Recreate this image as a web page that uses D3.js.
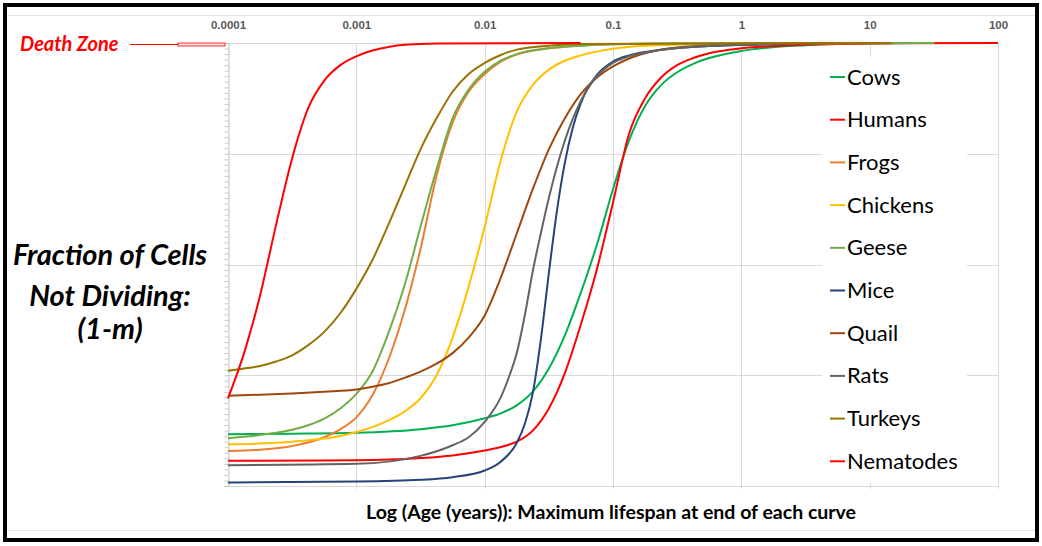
<!DOCTYPE html>
<html>
<head>
<meta charset="utf-8">
<script src="https://cdn.jsdelivr.net/npm/d3@7"></script>
<style>
  html, body { margin: 0; padding: 0; background: #fff; }
  svg { display: block; }
</style>
</head>
<body>
<svg id="chart" width="1042" height="546"></svg>
<script>
// Fraction of cells not dividing (1-m) against age in years, one curve per species.
// Each pair is [age in years, fraction]; the last point is the maximum lifespan.
const cows = [[0.0001, 0.117], [0.0003162, 0.118], [0.001, 0.12], [0.003162, 0.128], [0.005623, 0.137],
  [0.01, 0.153], [0.01334, 0.164], [0.01778, 0.182], [0.02371, 0.213], [0.03162, 0.265], [0.04217, 0.34],
  [0.05623, 0.437], [0.07499, 0.545], [0.1, 0.67], [0.1334, 0.78], [0.1778, 0.858], [0.2371, 0.905],
  [0.3162, 0.934], [0.4217, 0.953], [0.5623, 0.966], [1, 0.982], [3.162, 0.995], [10, 0.999], [20, 1]];
const humans = [[0.0001, 0.057], [0.001, 0.058], [0.003162, 0.063], [0.005623, 0.069], [0.01, 0.08],
  [0.01334, 0.088], [0.01778, 0.10], [0.02371, 0.125], [0.03162, 0.175], [0.04217, 0.255],
  [0.05623, 0.365], [0.07499, 0.49], [0.1, 0.64], [0.1334, 0.795], [0.1778, 0.875], [0.2371, 0.922],
  [0.3162, 0.95], [0.4217, 0.966], [0.5623, 0.977], [1, 0.988], [3.162, 0.996], [10, 0.999], [100, 1]];
const frogs = [[0.0001, 0.079], [0.0001334, 0.08], [0.0001778, 0.082], [0.0002371, 0.085], [0.0003162, 0.09],
  [0.0004217, 0.098], [0.0005623, 0.11], [0.0007499, 0.128], [0.001, 0.155], [0.001334, 0.205],
  [0.001778, 0.285], [0.002371, 0.395], [0.003162, 0.535], [0.004217, 0.70], [0.005623, 0.82],
  [0.007499, 0.89], [0.01, 0.93], [0.01334, 0.958], [0.01778, 0.974], [0.03162, 0.988],
  [0.05623, 0.994], [0.1, 0.997], [0.3162, 0.999], [12, 1]];
const chickens = [[0.0001, 0.094], [0.0001778, 0.096], [0.0003162, 0.10], [0.0005623, 0.107], [0.0007499, 0.113],
  [0.001, 0.122], [0.001334, 0.133], [0.001778, 0.148], [0.002371, 0.168], [0.003162, 0.198],
  [0.004217, 0.25], [0.005623, 0.335], [0.007499, 0.45], [0.01, 0.585], [0.01334, 0.735],
  [0.01778, 0.845], [0.02371, 0.905], [0.03162, 0.94], [0.04217, 0.96], [0.05623, 0.972], [0.1, 0.987],
  [0.1778, 0.994], [0.5623, 0.998], [10, 1]];
const geese = [[0.0001, 0.108], [0.0001334, 0.111], [0.0001778, 0.115], [0.0002371, 0.12], [0.0003162, 0.127],
  [0.0004217, 0.137], [0.0005623, 0.152], [0.0007499, 0.175], [0.001, 0.208], [0.001334, 0.258],
  [0.001778, 0.345], [0.002371, 0.452], [0.003162, 0.585], [0.004217, 0.715], [0.005623, 0.83],
  [0.007499, 0.895], [0.01, 0.935], [0.01334, 0.96], [0.01778, 0.975], [0.03162, 0.988],
  [0.05623, 0.994], [0.1, 0.997], [0.3162, 0.999], [32, 1]];
const mice = [[0.0001, 0.008], [0.001, 0.01], [0.003162, 0.014], [0.005623, 0.02], [0.01, 0.035],
  [0.01334, 0.055], [0.01778, 0.097], [0.02054, 0.14], [0.02371, 0.21], [0.02738, 0.33],
  [0.03162, 0.48], [0.03652, 0.62], [0.04217, 0.73], [0.0487, 0.81], [0.05623, 0.865],
  [0.07499, 0.928], [0.1, 0.958], [0.1334, 0.972], [0.2371, 0.985], [0.5623, 0.993], [3.162, 0.999], [4, 1]];
const quail = [[0.0001, 0.204], [0.0001778, 0.206], [0.0003162, 0.209], [0.0005623, 0.213], [0.001, 0.218],
  [0.001334, 0.224], [0.001778, 0.232], [0.002371, 0.244], [0.003162, 0.258], [0.004217, 0.276],
  [0.005623, 0.30], [0.007499, 0.335], [0.01, 0.385], [0.01334, 0.47], [0.01778, 0.57], [0.02371, 0.67],
  [0.03162, 0.76], [0.04217, 0.83], [0.05623, 0.885], [0.07499, 0.922], [0.1, 0.947], [0.1334, 0.965],
  [0.1778, 0.977], [0.3162, 0.99], [1, 0.997], [3.162, 0.999], [5, 1]];
const rats = [[0.0001, 0.047], [0.001, 0.05], [0.003162, 0.068], [0.005623, 0.092], [0.007499, 0.11],
  [0.01, 0.145], [0.01334, 0.20], [0.0154, 0.245], [0.01778, 0.30], [0.02054, 0.385], [0.02371, 0.485],
  [0.02738, 0.57], [0.03162, 0.65], [0.03652, 0.72], [0.04217, 0.78], [0.05623, 0.87], [0.07499, 0.925],
  [0.1, 0.955], [0.1334, 0.97], [0.2371, 0.984], [0.5623, 0.993], [3.162, 0.999], [4.5, 1]];
const turkeys = [[0.0001, 0.26], [0.0001334, 0.265], [0.0001778, 0.271], [0.0002371, 0.281], [0.0003162, 0.295],
  [0.0004217, 0.318], [0.0005623, 0.348], [0.0007499, 0.39], [0.001, 0.445], [0.001334, 0.51],
  [0.001778, 0.59], [0.002371, 0.675], [0.003162, 0.76], [0.004217, 0.83], [0.005623, 0.89],
  [0.007499, 0.93], [0.01, 0.955], [0.01334, 0.973], [0.01778, 0.985], [0.03162, 0.994],
  [0.05623, 0.998], [15, 1]];
const nematodes = [[0.0001, 0.198], [0.0001334, 0.30], [0.0001778, 0.43], [0.0002371, 0.59],
  [0.0003162, 0.74], [0.0004217, 0.853], [0.0005623, 0.915], [0.0007499, 0.95], [0.001, 0.97],
  [0.001334, 0.983], [0.001778, 0.991], [0.002371, 0.996], [0.004217, 0.999], [0.056, 1]];

const seriesNames = ["Cows", "Humans", "Frogs", "Chickens", "Geese", "Mice", "Quail", "Rats", "Turkeys", "Nematodes"];
const seriesData = [cows, humans, frogs, chickens, geese, mice, quail, rats, turkeys, nematodes];
const seriesColors = ["#00B050", "#FF0000", "#ED7D31", "#FFC000", "#70AD47", "#264478", "#9E480E", "#636363", "#997300", "#FF0000"];

const xTickValues = [0.0001, 0.001, 0.01, 0.1, 1, 10, 100];
const xTickLabels = ["0.0001", "0.001", "0.01", "0.1", "1", "10", "100"];
const yGridValues = [0.25, 0.5, 0.75, 1];
const yTitleLines = ["Fraction of Cells", "Not Dividing:", "(1-m)"];
const xTitle = "Log (Age (years)): Maximum lifespan at end of each curve";
const zoneLabel = "Death Zone";

const svg = d3.select("#chart");
const x = d3.scaleLog().domain([0.0001, 100]).range([228, 998]);
const y = d3.scaleLinear().domain([0, 1]).range([486, 43]);

// outer frame
svg.append("rect").attr("x", 0).attr("y", 0).attr("width", 1042).attr("height", 546).attr("fill", "#fff");
svg.append("line").attr("x1", 8).attr("x2", 1036).attr("y1", 15.5).attr("y2", 15.5).attr("stroke", "#e3e3e3");
svg.append("line").attr("x1", 8).attr("x2", 1036).attr("y1", 530.5).attr("y2", 530.5).attr("stroke", "#e3e3e3");
svg.append("rect").attr("x", 5).attr("y", 5).attr("width", 1032).attr("height", 535)
  .attr("fill", "none").attr("stroke", "#000").attr("stroke-width", 4);

// gridlines
const grid = svg.append("g");
grid.selectAll("line.h").data(yGridValues).join("line")
  .attr("x1", x(0.0001)).attr("x2", x(100))
  .attr("y1", d => Math.round(y(d)) + 0.5).attr("y2", d => Math.round(y(d)) + 0.5)
  .attr("stroke", "#d9d9d9").attr("stroke-width", 1);
grid.selectAll("line.v").data(xTickValues.slice(1)).join("line")
  .attr("x1", d => Math.round(x(d)) + 0.5).attr("x2", d => Math.round(x(d)) + 0.5)
  .attr("y1", y(1)).attr("y2", y(0) + 3)
  .attr("stroke", "#d9d9d9").attr("stroke-width", 1);

// bottom axis line
svg.append("line").attr("x1", x(0.0001)).attr("x2", x(100))
  .attr("y1", Math.round(y(0)) + 0.5).attr("y2", Math.round(y(0)) + 0.5)
  .attr("stroke", "#d9d9d9");

// left axis with minor ticks
const yAxis = d3.axisLeft(y).tickValues(d3.range(0, 1.0001, 0.0125)).tickSize(4).tickFormat("");
const yAxisG = svg.append("g").attr("transform", `translate(${Math.round(x(0.0001)) + 0.5},0)`).call(yAxis);
yAxisG.select(".domain").attr("stroke", "#bfbfbf");
yAxisG.selectAll(".tick line").attr("stroke", "#c8c8c8");

// top axis labels
const xAxis = d3.axisTop(x).tickValues(xTickValues).tickSize(0).tickPadding(0)
  .tickFormat((d, i) => xTickLabels[i]);
const xAxisG = svg.append("g").attr("transform", "translate(0,29)").call(xAxis);
xAxisG.select(".domain").remove();
xAxisG.selectAll("text").attr("fill", "#595959")
  .style("font-family", "'Liberation Sans', Arial, sans-serif").style("font-size", "11.5px").style("font-weight", "bold");

// curves
const line = d3.line().x(d => x(d[0])).y(d => y(d[1])).curve(d3.curveMonotoneX);
svg.append("g").selectAll("path").data(seriesData).join("path")
  .attr("d", line).attr("fill", "none")
  .attr("stroke", (d, i) => seriesColors[i]).attr("stroke-width", 2);

// legend
const legend = svg.append("g");
legend.append("rect").attr("x", 822).attr("y", 57).attr("width", 145).attr("height", 426).attr("fill", "#fff");
const item = legend.selectAll("g").data(seriesNames).join("g")
  .attr("transform", (d, i) => `translate(830,${77 + i * 42.7})`);
item.append("line").attr("x1", 0).attr("x2", 15).attr("y1", 0).attr("y2", 0)
  .attr("stroke", (d, i) => seriesColors[i]).attr("stroke-width", 2);
item.append("text").attr("x", 17).attr("y", 7.5).text(d => d)
  .style("font-family", "Lato, sans-serif").style("font-size", "22px").attr("fill", "#000");

// axis titles
svg.append("text").attr("x", 611).attr("y", 519).attr("text-anchor", "middle").text(xTitle)
  .style("font-family", "Lato, sans-serif").style("font-size", "19.5px").style("font-weight", "bold");
const yTitleBaselines = [265, 306, 339];
svg.append("g").selectAll("text").data(yTitleLines).join("text")
  .attr("x", 110).attr("y", (d, i) => yTitleBaselines[i]).attr("text-anchor", "middle").text(d => d)
  .style("font-family", "Lato, sans-serif").style("font-size", "29px")
  .style("font-weight", "bold").style("font-style", "italic");

// death zone marker at fraction 1
const zoneY = y(1) + 1.5;
svg.append("text").attr("x", 20).attr("y", zoneY + 6.5).text(zoneLabel).attr("fill", "#FF0000")
  .style("font-family", "Lato, sans-serif").style("font-size", "20px")
  .style("font-weight", "bold").style("font-style", "italic");
svg.append("line").attr("x1", 130).attr("x2", 178).attr("y1", zoneY).attr("y2", zoneY)
  .attr("stroke", "#FF0000").attr("stroke-width", 1);
svg.append("rect").attr("x", 178).attr("y", zoneY - 1.5).attr("width", 47).attr("height", 3)
  .attr("fill", "#ffe6e6").attr("stroke", "#FF0000").attr("stroke-width", 0.8);
</script>
</body>
</html>
